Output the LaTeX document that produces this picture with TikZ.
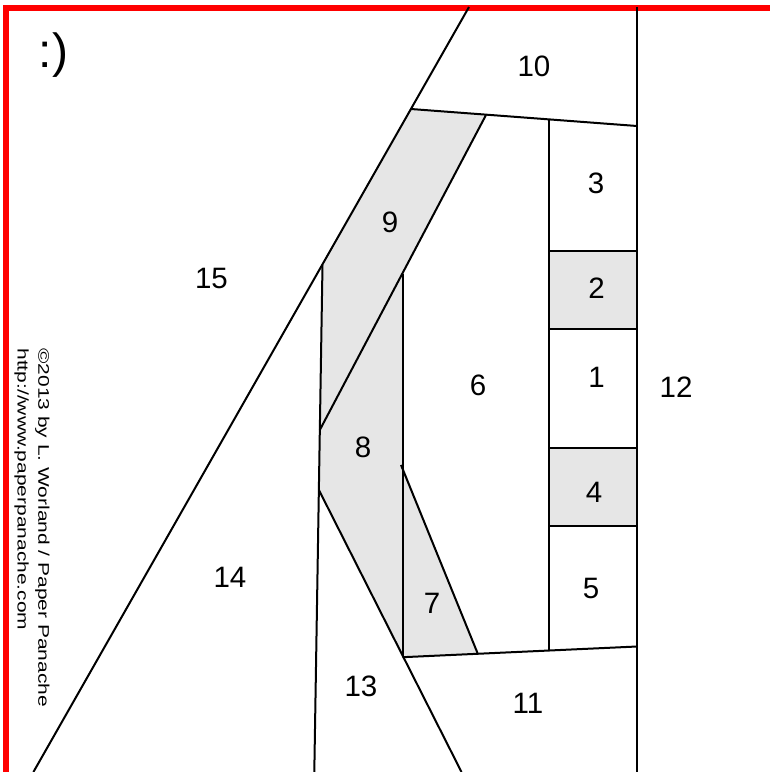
\documentclass[tikz,border=0pt]{standalone}
\usepackage{fontspec}
\setmainfont{Liberation Sans}
\usetikzlibrary{calc}
\definecolor{patchgray}{HTML}{E6E6E6}
\tikzset{
  seam/.style={draw=black, line width=2pt, line cap=butt},
  patch/.style={fill=patchgray, draw=none},
  num/.style={inner sep=0pt, font=\fontsize{29.5}{31}\selectfont},
  credit/.style={inner sep=0pt, rotate=-90, anchor=base west, font=\fontsize{15.4}{17}\selectfont},
}
\begin{document}
\begin{tikzpicture}[x=1pt, y=-1pt]
\useasboundingbox (0,0) rectangle (770,772);
% named points
\coordinate (Ltop) at (469,7);
\coordinate (Lbot) at (33.4,772);
\coordinate (Rtop) at (637,7);
\coordinate (Rbot) at (637,772);
\coordinate (Tl) at (411,109);
\coordinate (Tr) at (637,126);
\coordinate (Nr) at (486,115);
\coordinate (Nl) at (319.8,430);
\coordinate (Vtop) at (322.5,265);
\coordinate (Vbot) at (314.3,772);
\coordinate (Mtop) at (402.5,274.4);
\coordinate (Mbot) at (402.5,657.2);
\coordinate (Dtop) at (318.9,490);
\coordinate (Dbot) at (461.5,772);
\coordinate (Stop) at (401,465);
\coordinate (Sbot) at (477.5,653);
\coordinate (Btr) at (637,646.5);
\coordinate (Ctop) at (548.5,119.5);
\coordinate (Cbot) at (548.5,650.5);
% gray patches
\fill[patch] (Tl) -- (Nr) -- (Nl) -- (Vtop) -- cycle;
\fill[patch] (Mtop) -- (Nl) -- (Dtop) -- (Mbot) -- cycle;
\fill[patch] (402.5,465) -- (Sbot) -- (Mbot) -- cycle;
\fill[patch] (548.5,251) rectangle (637,329);
\fill[patch] (548.5,448) rectangle (637,526);
% red frame
\draw[red, line width=5.5pt] (6,790) -- (6,8) -- (790,8);
% seams
\draw[seam] (Ltop) -- (Lbot);
\draw[seam] (Rtop) -- (Rbot);
\draw[seam] (Tl) -- (Tr);
\draw[seam] (Nr) -- (Nl);
\draw[seam] (Vtop) -- (Vbot);
\draw[seam] (Mtop) -- (Mbot);
\draw[seam] (Dtop) -- (Dbot);
\draw[seam] (Stop) -- (Sbot);
\draw[seam] (Mbot) -- (Btr);
\draw[seam] (Ctop) -- (Cbot);
\draw[seam] (548.5,251) -- (637,251);
\draw[seam] (548.5,329) -- (637,329);
\draw[seam] (548.5,448) -- (637,448);
\draw[seam] (548.5,526) -- (637,526);
% labels
\node[num] (n1) at (596.5,377) {1};
\node[num] (n2) at (596.5,288.5) {2};
\node[num] (n3) at (596,183) {3};
\node[num] (n4) at (594,492) {4};
\node[num] (n5) at (591,588) {5};
\node[num] (n6) at (478,385.5) {6};
\node[num] (n7) at (432,603) {7};
\node[num] (n8) at (363,447) {8};
\node[num] (n9) at (390,222) {9};
\node[num] (n10) at (534,66) {10};
\node[num] (n11) at (528,703) {11};
\node[num] (n12) at (676,387) {12};
\node[num] (n13) at (361,686) {13};
\node[num] (n14) at (230,577.5) {14};
\node[num] (n15) at (211.5,278) {15};
\node[inner sep=0pt, font=\fontsize{48}{50}\selectfont] (smile) at (53.5,55) {:)};
\node[credit] (c1) at (38.3,348.3) {\scalebox{1.36}[1]{©2013 by L. Worland / Paper Panache}};
\node[credit] (c2) at (17.5,348.3) {\scalebox{1.36}[1]{http://www.paperpanache.com}};
\end{tikzpicture}
\end{document}
